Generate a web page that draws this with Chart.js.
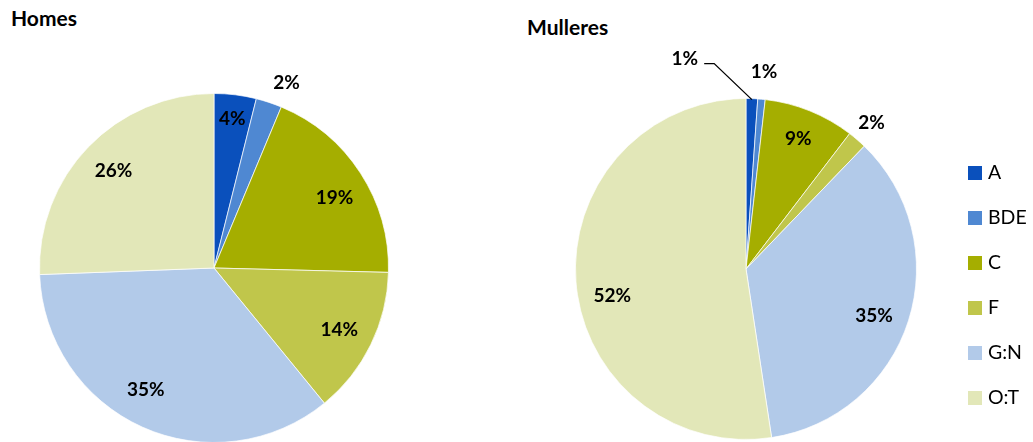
<!DOCTYPE html>
<html>
<head>
<meta charset="utf-8">
<script src="https://cdn.jsdelivr.net/npm/chart.js@4/dist/chart.umd.min.js"></script>
<style>
  body { margin: 0; width: 1033px; height: 442px; overflow: hidden; background: #fff; position: relative; font-family: Lato, sans-serif; }
  .title { position: absolute; font-weight: bold; font-size: 21px; line-height: 21px; color: #000; }
  canvas { position: absolute; top: 0; }
  .leg { position: absolute; left: 968px; height: 14px; font-size: 19.5px; color: #000; }
  .leg .sw { position: absolute; left: 0; top: 0; width: 14px; height: 14px; }
  .leg .tx { position: absolute; left: 20px; top: -4px; line-height: 20px; white-space: nowrap; }
</style>
</head>
<body>
<div class="title" style="left:11px; top:7px;">Homes</div>
<div class="title" style="left:527px; top:16px;">Mulleres</div>
<canvas id="homes" width="500" height="460" style="left:0px;"></canvas>
<canvas id="mulleres" width="533" height="460" style="left:500px;"></canvas>
<div id="legend"></div>
<script>
const categories = ['A', 'BDE', 'C', 'F', 'G:N', 'O:T'];
// shares in % (labels show them rounded)
const homesValues = [3.9, 2.4, 19.1, 13.7, 35.3, 25.6];
const mulleresValues = [1.1, 0.7, 8.6, 1.8, 35.4, 52.4];
const colors = ['#0a50bc', '#4f88d2', '#a5ae00', '#c0c64b', '#b2cae9', '#e2e7b8'];

const legendField = document.getElementById('legend');
categories.forEach(function(name, i){
    const row = document.createElement('div');
    row.className = 'leg';
    row.style.top = (166 + i * 45) + 'px';
    row.innerHTML = '<div class="sw" style="background:' + colors[i] + '"></div><div class="tx">' + name + '</div>';
    legendField.appendChild(row);
});

// percent labels, placed like the spreadsheet "best fit"
// f = fraction of radius, a = angle nudge in degrees
const pctLabels = {
    id: 'pctLabels',
    afterDatasetsDraw(chart, args, opts){
        const ctx = chart.ctx;
        const meta = chart.getDatasetMeta(0);
        const data = chart.data.datasets[0].data;
        ctx.save();
        ctx.font = 'bold 19px Lato';
        ctx.fillStyle = '#000';
        ctx.textAlign = 'center';
        ctx.textBaseline = 'middle';
        meta.data.forEach(function(arc, i){
            const p = arc.getProps(['x', 'y', 'startAngle', 'endAngle', 'outerRadius'], true);
            const place = opts.place[i] || {};
            const mid = (p.startAngle + p.endAngle) / 2 + (place.a || 0) * Math.PI / 180;
            const text = Math.round(data[i]) + '%';
            let x, y;
            if(place.leader){
                const ox = p.x + Math.cos(mid) * p.outerRadius;
                const oy = p.y + Math.sin(mid) * p.outerRadius;
                x = ox + place.dx;
                y = oy + place.dy;
                const w = ctx.measureText(text).width;
                ctx.beginPath();
                ctx.strokeStyle = '#000';
                ctx.lineWidth = 1.3;
                ctx.moveTo(x + w / 2 + 6, y + 5);
                ctx.lineTo(x + w / 2 + 16, y + 5);
                ctx.lineTo(ox, oy + 1);
                ctx.stroke();
            }
            else{
                const f = place.f || 0.8;
                x = p.x + Math.cos(mid) * p.outerRadius * f;
                y = p.y + Math.sin(mid) * p.outerRadius * f;
            }
            ctx.fillText(text, x, y);
        });
        ctx.restore();
    }
};

function makePie(id, values, padding, place){
    return new Chart(document.getElementById(id), {
        type: 'pie',
        data: {
            labels: categories,
            datasets: [{
                data: values,
                backgroundColor: colors,
                borderColor: 'rgba(255,255,255,0.7)',
                borderWidth: 1
            }]
        },
        options: {
            responsive: false,
            animation: false,
            layout: { padding: padding },
            plugins: {
                legend: { display: false },
                tooltip: { enabled: false },
                pctLabels: { place: place }
            }
        },
        plugins: [pctLabels]
    });
}

makePie('homes', homesValues,
    { left: 39, right: 111, top: 93, bottom: 17 },
    [{ f: 0.86 }, { f: 1.14, a: 3 }, { f: 0.8, a: 2.7 }, { f: 0.8 }, { f: 0.8, a: 5 }, { f: 0.8 }]);

makePie('mulleres', mulleresValues,
    { left: 75, right: 116, top: 98, bottom: 20 },
    [{ leader: true, dx: -67, dy: -40 }, { f: 1.16 }, { f: 0.82 }, { f: 1.13 }, { f: 0.8, a: 2.6 }, { f: 0.8, a: -7.2 }]);
</script>
</body>
</html>
